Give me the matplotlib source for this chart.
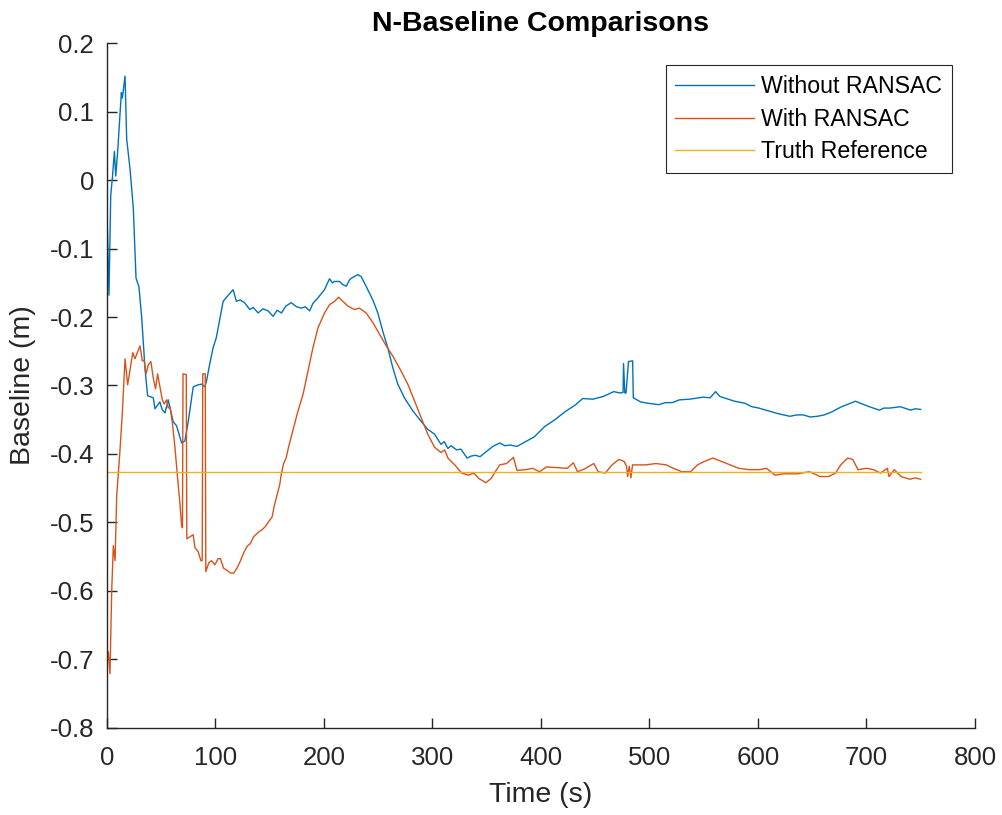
"""N-baseline estimate with and without RANSAC against the truth reference."""
import matplotlib
matplotlib.use("Agg")
import matplotlib.pyplot as plt
import numpy as np

plt.rcParams["font.family"] = ["Liberation Sans", "DejaVu Sans"]

# Baseline without outlier rejection (s, m)
t_plain = [0, 2.1, 3.7, 5.2, 7.1, 8.3, 10.1, 12.3, 13.5, 14.4, 16.9, 18.4, 21.5, 24.5,
           27.0, 29.7, 32.2, 35.3, 37.7, 42.9, 44.5, 49.0, 51.0, 53.7, 56.7, 61.3, 64.4,
           69.0, 72.0, 75.1, 79.7, 84.3, 87.4, 90.5, 92.0, 95.0, 98.0, 101.0, 104.0,
           107.3, 111.0, 116.5, 119.5, 123.0, 127.0, 131.8, 135.0, 139.5, 144.0, 148.7,
           153.3, 157.0, 161.0, 165.0, 170.0, 175.0, 179.3, 183.0, 187.0, 190.0, 194.6,
           200.7, 205.3, 208.0, 210.0, 214.6, 217.0, 220.7, 224.0, 226.8, 231.4, 234.5,
           239.0, 245.2, 249.8, 254.4, 259.0, 263.6, 268.2, 274.3, 282.0, 288.0, 295.8,
           302.0, 308.0, 311.0, 314.4, 317.2, 322.4, 326.4, 332.0, 336.0, 339.9, 344.0,
           349.4, 355.8, 362.1, 367.0, 371.7, 378.0, 386.0, 394.0, 403.5, 413.0, 422.6,
           432.2, 438.5, 448.0, 457.6, 467.1, 473.5, 475.8, 476.2, 477.4, 478.5, 480.8,
           484.6, 485.2, 486.3, 492.0, 499.0, 508.5, 515.0, 521.2, 527.6, 537.1, 549.8,
           556.0, 561.0, 565.0, 568.9, 578.5, 588.0, 594.4, 601.0, 607.2, 618.3, 629.4,
           636.0, 642.1, 648.0, 654.9, 661.0, 667.6, 677.1, 686.7, 690.0, 694.6, 702.6,
           712.1, 716.0, 721.7, 731.2, 740.8, 745.0, 750.0]
b_plain = [-0.027, -0.168, -0.022, 0.003, 0.042, 0.006, 0.042, 0.098, 0.128, 0.120, 0.152,
           0.060, 0.016, -0.041, -0.143, -0.156, -0.200, -0.276, -0.315, -0.318, -0.334,
           -0.324, -0.335, -0.340, -0.321, -0.353, -0.359, -0.384, -0.381, -0.353, -0.302,
           -0.299, -0.298, -0.302, -0.293, -0.268, -0.245, -0.230, -0.205, -0.177, -0.170,
           -0.160, -0.177, -0.175, -0.179, -0.189, -0.186, -0.194, -0.188, -0.191, -0.199,
           -0.190, -0.194, -0.184, -0.179, -0.185, -0.187, -0.185, -0.191, -0.180, -0.172,
           -0.160, -0.144, -0.150, -0.148, -0.148, -0.152, -0.155, -0.145, -0.142, -0.138,
           -0.141, -0.155, -0.175, -0.194, -0.221, -0.245, -0.274, -0.298, -0.318, -0.337,
           -0.349, -0.364, -0.371, -0.386, -0.382, -0.392, -0.388, -0.394, -0.393, -0.406,
           -0.403, -0.402, -0.404, -0.397, -0.389, -0.384, -0.388, -0.387, -0.389, -0.382,
           -0.375, -0.360, -0.350, -0.338, -0.328, -0.319, -0.320, -0.316, -0.309, -0.311,
           -0.310, -0.268, -0.311, -0.311, -0.265, -0.264, -0.318, -0.319, -0.324, -0.326,
           -0.328, -0.325, -0.325, -0.321, -0.320, -0.317, -0.318, -0.309, -0.316, -0.318,
           -0.323, -0.326, -0.331, -0.333, -0.336, -0.341, -0.345, -0.343, -0.343, -0.346,
           -0.345, -0.343, -0.339, -0.331, -0.325, -0.323, -0.326, -0.331, -0.336, -0.333,
           -0.333, -0.331, -0.336, -0.334, -0.335]

# Baseline with RANSAC outlier rejection (s, m)
t_ransac = [0, 1.5, 3.0, 4.6, 6.1, 7.7, 9.2, 12.0, 14.4, 16.9, 19.3, 21.5, 24.0, 26.0,
            28.5, 30.7, 32.8, 34.5, 36.2, 38.3, 40.7, 42.9, 45.0, 46.9, 49.0, 51.2, 53.0,
            55.2, 56.7, 58.3, 60.4, 62.9, 65.3, 67.5, 69.0, 69.8, 70.3, 73.3, 73.8, 76.7,
            79.7, 81.3, 84.3, 86.8, 88.0, 88.5, 90.8, 91.3, 94.1, 96.6, 99.6, 102.7, 104.8,
            107.7, 110.8, 113.9, 117.0, 120.0, 123.0, 126.1, 129.3, 132.3, 135.4, 140.0,
            143.0, 146.2, 149.2, 152.4, 154.5, 157.0, 159.4, 161.0, 163.0, 165.3, 167.7,
            170.8, 176.3, 180.9, 185.5, 190.0, 194.6, 200.7, 205.3, 210.0, 213.6, 217.6,
            222.2, 228.3, 233.0, 239.0, 245.2, 251.3, 257.5, 263.6, 271.3, 277.4, 283.5,
            289.7, 295.8, 302.0, 308.0, 311.3, 314.4, 320.7, 327.1, 333.4, 338.2, 343.0,
            349.4, 354.1, 357.3, 362.1, 368.4, 374.8, 378.0, 386.0, 392.5, 398.8, 405.2,
            414.7, 424.3, 430.0, 433.8, 440.2, 448.8, 452.9, 459.3, 465.6, 472.0, 476.7,
            479.0, 480.0, 481.5, 483.0, 484.5, 487.0, 496.6, 506.1, 515.6, 522.0, 530.0,
            538.0, 544.3, 550.7, 558.6, 566.6, 574.5, 582.4, 592.0, 601.5, 607.9, 615.8,
            623.8, 636.5, 647.6, 657.2, 665.1, 671.5, 676.3, 682.7, 687.4, 692.2, 700.2,
            706.5, 712.9, 719.3, 720.8, 725.6, 732.0, 739.9, 745.0, 750.0]
b_ransac = [-0.685, -0.690, -0.721, -0.600, -0.534, -0.556, -0.461, -0.400, -0.340, -0.261,
            -0.299, -0.277, -0.252, -0.261, -0.251, -0.242, -0.264, -0.263, -0.283, -0.270,
            -0.265, -0.289, -0.305, -0.283, -0.302, -0.321, -0.327, -0.321, -0.333, -0.331,
            -0.353, -0.391, -0.435, -0.473, -0.505, -0.508, -0.283, -0.284, -0.524, -0.521,
            -0.518, -0.537, -0.543, -0.556, -0.556, -0.283, -0.283, -0.572, -0.559, -0.556,
            -0.562, -0.553, -0.553, -0.567, -0.570, -0.574, -0.574, -0.567, -0.557, -0.545,
            -0.535, -0.531, -0.521, -0.514, -0.511, -0.506, -0.499, -0.492, -0.475, -0.460,
            -0.445, -0.428, -0.414, -0.406, -0.389, -0.370, -0.337, -0.313, -0.279, -0.245,
            -0.216, -0.194, -0.182, -0.177, -0.171, -0.177, -0.184, -0.189, -0.187, -0.194,
            -0.208, -0.225, -0.242, -0.257, -0.279, -0.298, -0.322, -0.347, -0.371, -0.390,
            -0.398, -0.394, -0.406, -0.416, -0.428, -0.431, -0.428, -0.436, -0.442, -0.436,
            -0.428, -0.416, -0.414, -0.405, -0.424, -0.423, -0.421, -0.426, -0.419, -0.420,
            -0.421, -0.413, -0.426, -0.422, -0.414, -0.426, -0.428, -0.416, -0.408, -0.411,
            -0.418, -0.433, -0.418, -0.435, -0.416, -0.416, -0.416, -0.414, -0.416, -0.421,
            -0.426, -0.426, -0.416, -0.411, -0.406, -0.411, -0.416, -0.421, -0.423, -0.423,
            -0.421, -0.431, -0.429, -0.429, -0.426, -0.433, -0.433, -0.428, -0.416, -0.406,
            -0.408, -0.423, -0.421, -0.423, -0.428, -0.421, -0.433, -0.423, -0.433, -0.437,
            -0.435, -0.437]

# Surveyed truth baseline
truth_t = [0, 750]
truth_b = -0.427

y_ticks = [-0.8, -0.7, -0.6, -0.5, -0.4, -0.3, -0.2, -0.1, 0, 0.1, 0.2]

C_PLAIN, C_RANSAC, C_TRUTH = "#0072BD", "#D95319", "#EDB120"
INK = "#262626"

fig = plt.figure(figsize=(10.02, 8.15), dpi=100)
ax = fig.add_axes([0.1065, 0.1071, 0.8665, 0.8398])

ax.plot(t_plain, b_plain, color=C_PLAIN, lw=1.0, label="Without RANSAC")
ax.plot(t_ransac, b_ransac, color=C_RANSAC, lw=1.0, label="With RANSAC")
ax.plot(truth_t, [truth_b] * len(truth_t), color=C_TRUTH, lw=1.0, label="Truth Reference")

ax.set_xlim(0, 800); ax.set_ylim(-0.8, 0.2)
ax.set_xticks(np.arange(0, 801, 100))
ax.set_yticks(y_ticks)
ax.set_yticklabels([f"{v:g}" for v in y_ticks])
for side in ("top", "right"):
    ax.spines[side].set_visible(False)
for side in ("left", "bottom"):
    ax.spines[side].set_color(INK); ax.spines[side].set_linewidth(1.0)
ax.tick_params(direction="in", length=7, width=1.0, color=INK, labelcolor=INK,
               labelsize=18.6)
ax.tick_params(axis="x", pad=13)
ax.tick_params(axis="y", pad=9)

ax.set_xlabel("Time (s)", fontsize=20.5, color=INK, labelpad=9)
ax.set_ylabel("Baseline (m)", fontsize=20.5, color=INK, labelpad=10)
ax.set_title("N-Baseline Comparisons", fontsize=20.5, fontweight="bold", pad=9)

leg = ax.legend(loc="upper right", bbox_to_anchor=(0.9735, 0.968), borderaxespad=0,
                fontsize=16.7, fancybox=False, framealpha=1, edgecolor=INK,
                handlelength=3.4, handletextpad=0.3, labelspacing=0.42, borderpad=0.42)
leg.get_frame().set_linewidth(0.8)

fig.savefig("out.png", dpi=100)
